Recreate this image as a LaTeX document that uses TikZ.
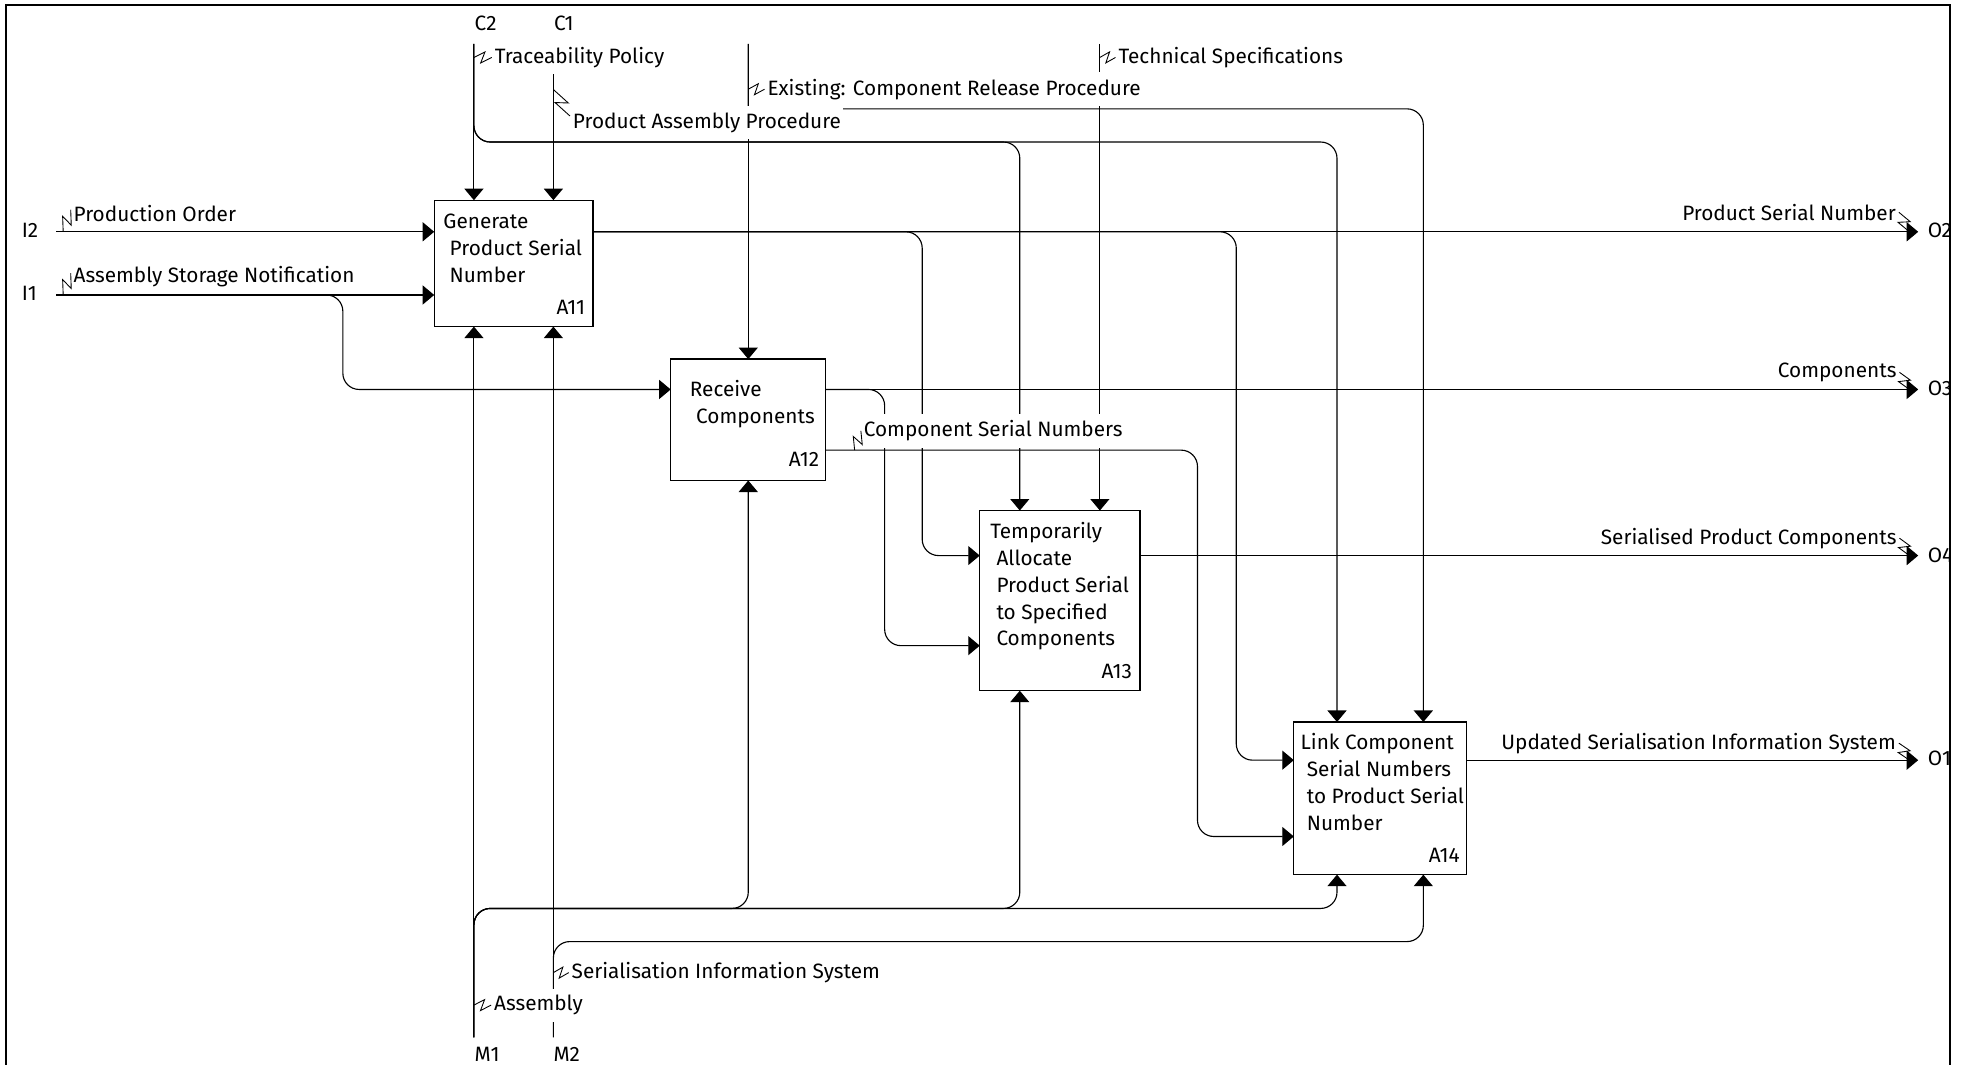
\documentclass[tikz,border=0pt]{standalone}
\usepackage{fontspec}
\setmainfont{Fira Sans}
\usetikzlibrary{arrows.meta,positioning,calc}

% line break with the small indent used on follow-on lines inside activity boxes
\newcommand{\brk}{\\\hspace*{2.5pt}}

\begin{document}
\begin{tikzpicture}[
  x=0.5pt, y=-0.5pt,
  font=\fontsize{8.3}{10.7}\selectfont,
  act/.style={rectangle, draw, line width=0.5pt, inner sep=0pt, outer sep=0pt, anchor=north west},
  acttxt/.style={anchor=north west, inner sep=0pt, align=left},
  actno/.style={anchor=base east, inner sep=0pt},
  lbl/.style={fill=white, inner xsep=1pt, inner ysep=2.6pt},
  port/.style={inner sep=0pt, anchor=base west},
  flow/.style={line width=0.45pt, rounded corners=6.5pt, -{Triangle[length=4.6pt, width=7.6pt]}},
  squig/.style={line width=0.35pt, to path={-- ($(\tikztostart)!.62!(\tikztotarget)!2.2pt!90:(\tikztotarget)$) -- ($(\tikztostart)!.38!(\tikztotarget)!2.2pt!-90:(\tikztotarget)$) -- (\tikztotarget)}}
]
  \useasboundingbox (0,0) rectangle (1568,851);
  \draw[line width=0.9pt] (5,4) rectangle (1558.5,900);

  % Activities
  \node[act, minimum width=63.5pt, minimum height=50.5pt] (a11) at (347,160) {};
  \node[act, minimum width=62pt, minimum height=48.5pt, below right=13pt and 31pt of a11] (a12) {};
  \node[act, minimum width=64pt, minimum height=72pt, below right=12pt and 61.5pt of a12] (a13) {};
  \node[act, minimum width=69pt, minimum height=61pt, below right=12.5pt and 61.5pt of a13] (a14) {};

  \node[acttxt] (a11-txt) at ($(a11.north west)+(7,7.5)$) {\strut Generate\brk Product Serial\brk Number};
  \node[acttxt] (a12-txt) at ($(a12.north west)+(15,14.5)$) {\strut Receive\brk Components};
  \node[acttxt] (a13-txt) at ($(a13.north west)+(8,7.2)$) {\strut Temporarily\brk Allocate\brk Product Serial\brk to Specified\brk Components};
  \node[acttxt] (a14-txt) at ($(a14.north west)+(5,6.8)$) {\strut Link Component\brk Serial Numbers\brk to Product Serial\brk Number};

  \node[actno] (a11-no) at ($(a11.south east)+(-6,-9.5)$) {A11};
  \node[actno] (a12-no) at ($(a12.south east)+(-5,-11)$) {A12};
  \node[actno] (a13-no) at ($(a13.south east)+(-6,-10)$) {A13};
  \node[actno] (a14-no) at ($(a14.south east)+(-5,-10)$) {A14};

  % ports at quarter points of each side
  \foreach \blk in {a11,a12,a13,a14}{
    \coordinate (\blk-t1) at ($(\blk.north west)!.25!(\blk.north east)$);
    \coordinate (\blk-t2) at ($(\blk.north west)!.75!(\blk.north east)$);
    \coordinate (\blk-b1) at ($(\blk.south west)!.25!(\blk.south east)$);
    \coordinate (\blk-b2) at ($(\blk.south west)!.75!(\blk.south east)$);
    \coordinate (\blk-l1) at ($(\blk.north west)!.25!(\blk.south west)$);
    \coordinate (\blk-l2) at ($(\blk.north west)!.75!(\blk.south west)$);
    \coordinate (\blk-r1) at ($(\blk.north east)!.25!(\blk.south east)$);
    \coordinate (\blk-r2) at ($(\blk.north east)!.75!(\blk.south east)$);
  }

  % boundary edges, buses and bends
  \coordinate (inedge) at (45,0);
  \coordinate (outedge) at (1533,0);
  \coordinate (ctrledge) at (0,35);
  \coordinate (mechedge) at (0,829);
  \coordinate (ebus) at (0,87);
  \coordinate (cbus) at (0,113.5);
  \coordinate (mbus) at (0,726);
  \coordinate (sbus) at (0,752.5);
  \coordinate (j1) at (274,0);
  \coordinate (j2) at (737,0);
  \coordinate (j3) at (988,0);
  \coordinate (j4) at (707,0);
  \coordinate (j5) at (957,0);

  % Inputs
  \draw[flow] (a11-l1 -| inedge) -- (a11-l1);
  \draw[flow] (a11-l2 -| inedge) -- (a11-l2);
  \draw[flow] (a11-l2 -| inedge) -| (j1 |- a12-l1) -- (a12-l1);

  % Controls
  \draw[flow] (a11-t1 |- ctrledge) -- (a11-t1);
  \draw[flow] (a11-t1 |- ctrledge) |- (a13-t1 |- cbus) -- (a13-t1);
  \draw[flow] (a11-t1 |- ctrledge) |- (a14-t1 |- cbus) -- (a14-t1);
  \draw[flow] (a11-t2 |- ctrledge) -- (a11-t2);
  \draw[flow] (a12.north |- ctrledge) -- (a12.north);
  \draw[flow] (a12.north |- ctrledge) [sharp corners] -- (a12.north |- ebus) [rounded corners=6.5pt] -- (a14-t2 |- ebus) -- (a14-t2);
  \draw[flow] (a13-t2 |- ctrledge) -- (a13-t2);

  % Outputs
  \draw[flow] (a11-r1) -- (a11-r1 -| outedge);
  \draw[flow] (a11-r1) -| (j2 |- a13-l1) -- (a13-l1);
  \draw[flow] (a11-r1) -| (j3 |- a14-l1) -- (a14-l1);
  \draw[flow] (a12-r1) -- (a12-r1 -| outedge);
  \draw[flow] (a12-r1) -| (j4 |- a13-l2) -- (a13-l2);
  \draw[flow] (a12-r2) -| (j5 |- a14-l2) -- (a14-l2);
  \draw[flow] (a13-r1) -- (a13-r1 -| outedge);
  \draw[flow] (a14-r1) -- (a14-r1 -| outedge);

  % Mechanisms
  \draw[flow] (a11-b1 |- mechedge) -- (a11-b1);
  \draw[flow] (a11-b1 |- mechedge) |- (a12.south |- mbus) -- (a12.south);
  \draw[flow] (a11-b1 |- mechedge) |- (a13-b1 |- mbus) -- (a13-b1);
  \draw[flow] (a11-b1 |- mechedge) |- (a14-b1 |- mbus) -- (a14-b1);
  \draw[flow] (a11-b2 |- mechedge) -- (a11-b2);
  \draw[flow] (a11-b2 |- mechedge) |- (a14-b2 |- sbus) -- (a14-b2);

  % Arrow labels
  \node[lbl, anchor=base west] (po) at (56.5,177) {Production Order};
  \node[lbl, anchor=base west] (asn) at (56.5,226) {Assembly Storage Notification};
  \node[lbl, anchor=base west] (tp) at (393,50.6) {Traceability Policy};
  \node[lbl, anchor=base west] (pap) at (455.5,102.6) {Product Assembly Procedure};
  \node[lbl, anchor=base west] (crp) at (611,76) {Existing: Component Release Procedure};
  \node[lbl, anchor=base west] (tsp) at (891.5,50.6) {Technical Specifications};
  \node[lbl, anchor=base west] (csn) at (688,349) {Component Serial Numbers};
  \node[lbl, anchor=base east] (psn) at (1517.5,176) {Product Serial Number};
  \node[lbl, anchor=base east] (cmp) at (1518,301.6) {Components};
  \node[lbl, anchor=base east] (spc) at (1518,434.8) {Serialised Product Components};
  \node[lbl, anchor=base east] (usis) at (1517.5,598.6) {Updated Serialisation Information System};
  \node[lbl, anchor=base west] (sis) at (454.5,782) {Serialisation Information System};
  \node[lbl, anchor=base west] (asm) at (392.5,807.7) {Assembly};

  % squiggles tying labels to their arrows
  \draw[squig] ($(a11-l1 -| po.west)+(-6,0)$) to ($(po.west)+(0,-3)$);
  \draw[squig] ($(a11-l2 -| asn.west)+(-6,0)$) to ($(asn.west)+(0,-3)$);
  \draw[squig] (a11-t1 |- tp.west) to (tp.west);
  \draw[squig] ($(a11-t2 |- pap.north)+(0,-13)$) to ($(pap.north west)!.3!(pap.south west)$);
  \draw[squig] (a12.north |- crp.west) to (crp.west);
  \draw[squig] (a13-t2 |- tsp.west) to (tsp.west);
  \draw[squig] ($(a12-r2 -| csn.west)+(-5,0)$) to (csn.west);
  \draw[squig] (psn.east) to ($(a11-r1 -| outedge)+(-7,0)$);
  \draw[squig] (cmp.east) to ($(a12-r1 -| outedge)+(-7,0)$);
  \draw[squig] (spc.east) to ($(a13-r1 -| outedge)+(-7,0)$);
  \draw[squig] (usis.east) to ($(a14-r1 -| outedge)+(-7,0)$);
  \draw[squig] (a11-b2 |- sis.west) to (sis.west);
  \draw[squig] (a11-b1 |- asm.west) to (asm.west);

  % ICOM codes
  \node[port] (i2) at (17,189.5) {I2};
  \node[port] (i1) at (17,240) {I1};
  \node[port] (c2) at (379,24.5) {C2};
  \node[port] (c1) at (442.4,24.5) {C1};
  \node[port] (m1) at (379,848) {M1};
  \node[port] (m2) at (442,848) {M2};
  \begin{scope}
    \clip (5,4) rectangle (1558,860);
    \node[port] (o2) at (1540.3,189.7) {O2};
    \node[port] (o3) at (1540.3,315.7) {O3};
    \node[port] (o4) at (1540.3,449.4) {O4};
    \node[port] (o1) at (1540.3,611.4) {O1};
  \end{scope}
\end{tikzpicture}
\end{document}
